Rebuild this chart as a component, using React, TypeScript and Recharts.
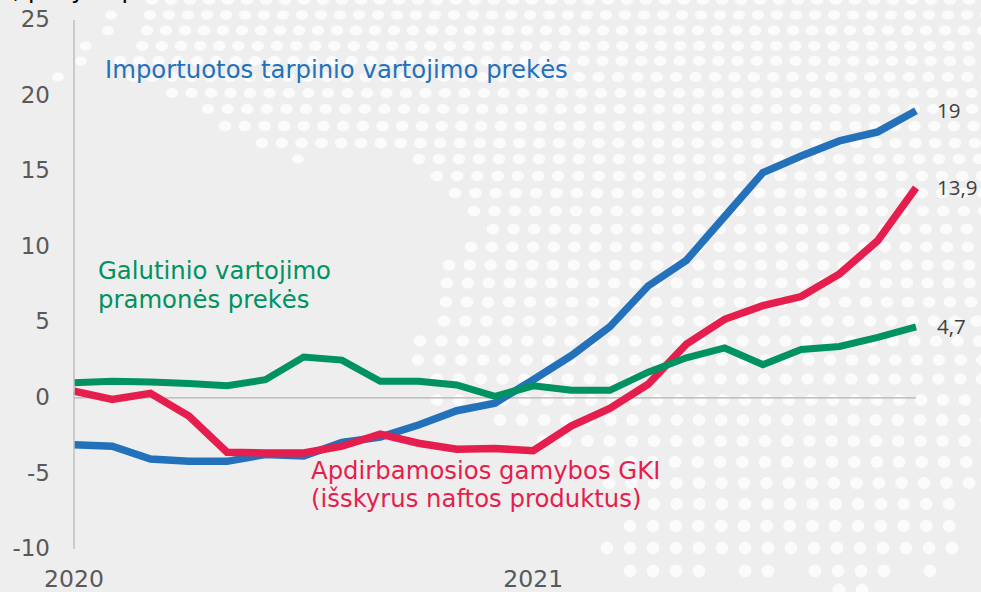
import React from 'react';
import { LineChart, Line, XAxis, YAxis, ReferenceLine } from 'recharts';

const months = [
  '2020-01', '2020-02', '2020-03', '2020-04', '2020-05', '2020-06', '2020-07', '2020-08',
  '2020-09', '2020-10', '2020-11', '2020-12', '2021-01', '2021-02', '2021-03', '2021-04',
  '2021-05', '2021-06', '2021-07', '2021-08', '2021-09', '2021-10', '2021-11',
];
const imported = [-3.1, -3.2, -4.05, -4.2, -4.2, -3.75, -3.85, -2.95, -2.6, -1.8, -0.85, -0.35, 1.2, 2.8, 4.7, 7.4, 9.1, 12, 14.9, 16, 17, 17.6, 19];
const manufacturing = [0.45, -0.1, 0.3, -1.2, -3.6, -3.65, -3.65, -3.2, -2.4, -3, -3.4, -3.35, -3.5, -1.85, -0.7, 0.9, 3.55, 5.2, 6.1, 6.7, 8.2, 10.4, 13.9];
const finalGoods = [1, 1.1, 1.05, 0.95, 0.8, 1.2, 2.7, 2.5, 1.1, 1.1, 0.85, 0.1, 0.8, 0.5, 0.5, 1.7, 2.65, 3.3, 2.2, 3.2, 3.4, 4, 4.7];
const yTicks = [-10, -5, 0, 5, 10, 15, 20, 25];
const xTicks = ['2020-01', '2021-01'];

const BLUE = '#2471bb';
const RED = '#e61e4d';
const GREEN = '#009261';
const FONT = '"DejaVu Sans", sans-serif';

// dotted map behind the chart: y, first x, last x, pitch
const dotRows = [
  [0, 152, 990, 19], [15, 150, 990, 19], [30.5, 147, 990, 19], [46, 142.5, 990, 19.2],
  [61, 120, 990, 19.3], [77, 133, 990, 19.4], [93, 172, 990, 19.5], [109, 208, 990, 19.6],
  [126, 225, 990, 19.7], [143, 262, 990, 19.8], [159, 419, 990, 20], [176, 437, 990, 20.2],
  [193, 455, 990, 20.3], [211, 474, 990, 20.4], [229, 493, 990, 20.6], [247, 471, 990, 20.7],
  [265, 449, 990, 20.8], [283, 447, 990, 20.9], [302, 446, 990, 21], [321, 444, 990, 21.3],
  [341, 420, 990, 21.5], [360, 418, 990, 21.7], [379, 437, 990, 21.8], [400, 437, 990, 22],
  [420, 500, 990, 22.1], [441, 543, 990, 22.2], [462, 608, 970, 22.4], [483, 609, 970, 22.5],
  [504, 654, 950, 22.7], [526, 630, 952, 22.8], [548, 607, 954, 23],
  [571, 630, 700, 23], [571, 745, 769, 23], [571, 815, 885, 23], [571, 930, 931, 23],
  [590, 839, 863, 23],
];
const strayDots = [[111, 15], [108, 30.5], [85.6, 46], [81, 61], [58, 77], [298, 159]];

const chartData = months.map((month, i) => ({
  month,
  imported: imported[i],
  manufacturing: manufacturing[i],
  finalGoods: finalGoods[i],
}));

const EndLabel = (props: any) => {
  const { x, y, index, value } = props;
  if (index !== months.length - 1) return null;
  return (
    <text x={x + 21} y={y + 7} fontSize={20.5} fontFamily='"Open Sans", sans-serif' fill="#404040">
      {String(value).replace('.', ',')}
    </text>
  );
};

const Backdrop = () => {
  const dots: React.ReactNode[] = [];
  dotRows.forEach(([y, start, end, pitch]) => {
    const ry = 4.8 + (1.6 * y) / 592;
    for (let x = start; x <= end; x += pitch) {
      dots.push(<ellipse key={`${y}-${x}`} cx={x} cy={y} rx={6.3} ry={ry} fill="#fbfbfb" />);
    }
  });
  strayDots.forEach(([x, y]) => {
    dots.push(<ellipse key={`s-${x}`} cx={x} cy={y} rx={6} ry={4.6} fill="#fbfbfb" />);
  });
  return (
    <svg width={981} height={592} style={{ position: 'absolute', left: 0, top: 0 }}>
      {dots}
    </svg>
  );
};

const App = () => {
  return (
    <div style={{ position: 'absolute', left: 0, top: 0, width: 981, height: 592, background: '#eeeeee', overflow: 'hidden' }}>
      <Backdrop />
      <div style={{ position: 'absolute', left: 0, top: 0 }}>
        <LineChart width={981} height={592} data={chartData} margin={{ top: 20, right: 65, bottom: 0, left: 0 }}>
          <ReferenceLine y={0} stroke="#b2b2b2" strokeWidth={1.3} />
          <XAxis
            dataKey="month"
            ticks={xTicks}
            interval={0}
            height={43}
            axisLine={false}
            tickLine={false}
            tickMargin={15}
            tickFormatter={(m: string) => m.slice(0, 4)}
            tick={{ fontSize: 23.5, fontFamily: FONT, fill: '#595959' }}
          />
          <YAxis
            width={74}
            domain={[-10, 25]}
            ticks={yTicks}
            interval={0}
            tickSize={0}
            tickMargin={24}
            axisLine={{ stroke: '#bfbfbf', strokeWidth: 1.5 }}
            tickLine={false}
            tick={{ fontSize: 23, fontFamily: FONT, fill: '#595959', dy: -1 }}
          />
          <Line dataKey="imported" stroke={BLUE} strokeWidth={7.5} dot={false} isAnimationActive={false} label={<EndLabel />} />
          <Line dataKey="manufacturing" stroke={RED} strokeWidth={7.5} dot={false} isAnimationActive={false} label={<EndLabel />} />
          <Line dataKey="finalGoods" stroke={GREEN} strokeWidth={7} dot={false} isAnimationActive={false} label={<EndLabel />} />
        </LineChart>
      </div>
      <svg width={981} height={592} style={{ position: 'absolute', left: 0, top: 0 }} fontFamily={FONT} fontSize={24.35}>
        <text x={-10} y={-2} fill="#000000" fontSize={24}>%, pokytis per metus</text>
        <text x={105} y={78} fill={BLUE}>Importuotos tarpinio vartojimo prekės</text>
        <text x={98} y={279} fill={GREEN}>Galutinio vartojimo</text>
        <text x={98} y={308} fill={GREEN}>pramonės prekės</text>
        <text x={311} y={479} fill={RED}>Apdirbamosios gamybos GKI</text>
        <text x={311} y={507} fill={RED}>(išskyrus naftos produktus)</text>
      </svg>
    </div>
  );
};

export default App;
